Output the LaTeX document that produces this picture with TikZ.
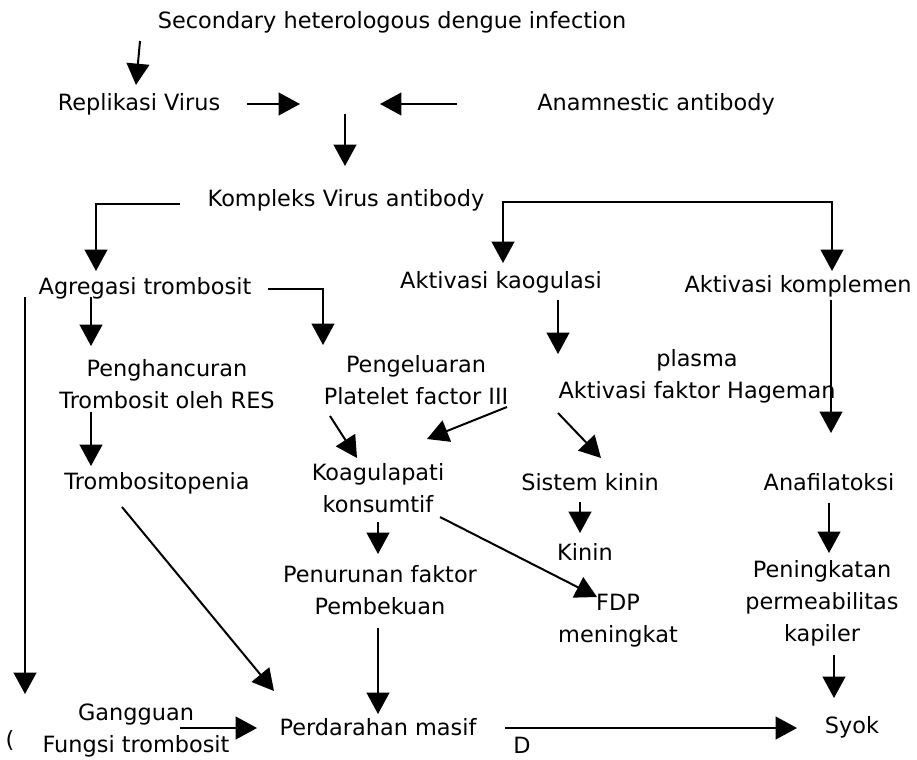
\documentclass[tikz,border=0pt]{standalone}
\usepackage{fontspec}
\setmainfont{DejaVu Sans}
\usetikzlibrary{arrows.meta}
\begin{document}
\begin{tikzpicture}[x=0.75pt,y=-0.75pt,
  lbl/.style={inner sep=0pt, align=center, font=\fontsize{16.8pt}{24pt}\selectfont},
  ln/.style={line width=1.5pt},
  arr/.style={line width=1.5pt, -{Triangle[length=16pt,width=17pt]}},
  darr/.style={line width=1.5pt, {Triangle[length=16pt,width=17pt]}-{Triangle[length=16pt,width=17pt]}}]
\useasboundingbox (0,0) rectangle (917,760);
% text nodes
\node[lbl] (sec) at (392,22) {Secondary heterologous dengue infection};
\node[lbl] (rep) at (139,104) {Replikasi Virus};
\node[lbl] (ana) at (656,104) {Anamnestic antibody};
\node[lbl] (kom) at (346,200) {Kompleks Virus antibody};
\node[lbl] (agr) at (145,288) {Agregasi trombosit};
\node[lbl] (kao) at (501,282) {Aktivasi kaogulasi};
\node[lbl] (kpl) at (798,286) {Aktivasi komplemen};
\node[lbl] (pen) at (167,384) {Penghancuran\\Trombosit oleh RES};
\node[lbl] (pgl) at (416,380) {Pengeluaran\\Platelet factor III};
\node[lbl] (hag) at (697,376) {plasma\\Aktivasi faktor Hageman};
\node[lbl] (trp) at (157,483) {Trombositopenia};
\node[lbl] (koa) at (378,488) {Koagulapati\\konsumtif};
\node[lbl] (sis) at (590,482) {Sistem kinin};
\node[lbl] (anf) at (829,482) {Anafilatoksi};
\node[lbl] (kin) at (585,552) {Kinin};
\node[lbl] (pnr) at (380,590) {Penurunan faktor\\Pembekuan};
\node[lbl] (fdp) at (618,621) {FDP\\meningkat};
\node[lbl] (pkt) at (822,603) {Peningkatan\\permeabilitas\\kapiler};
\node[lbl] (gan) at (136,731) {Gangguan\\Fungsi trombosit};
\node[lbl] (per) at (378,727) {Perdarahan masif};
\node[lbl] (syk) at (852,727) {Syok};
\node[lbl] (par) at (10,740) {(};
\node[lbl] (dd) at (522,745) {D};
% coordinates
\coordinate (a1s) at (140,41);  \coordinate (a1e) at (136,85);
\coordinate (a2s) at (247,104); \coordinate (a2e) at (300,104);
\coordinate (a3s) at (457,104); \coordinate (a3e) at (380,104);
\coordinate (a4s) at (345,114); \coordinate (a4e) at (345,166);
\coordinate (k1) at (180,204); \coordinate (k2) at (96,204); \coordinate (k3) at (96,271);
\coordinate (r1) at (503,263); \coordinate (r2) at (503,202); \coordinate (r3) at (832,202); \coordinate (r4) at (832,271);
\coordinate (g1) at (268,289); \coordinate (g2) at (323,289); \coordinate (g3) at (323,345);
\coordinate (l1) at (25,297); \coordinate (l2) at (25,694);
\coordinate (m1) at (91,297); \coordinate (m2) at (91,346);
\coordinate (m3) at (91,412); \coordinate (m4) at (91,466);
\coordinate (q1) at (558,300); \coordinate (q2) at (558,354);
\coordinate (s1) at (831,300); \coordinate (s2) at (831,433);
\coordinate (p1) at (330,416); \coordinate (p2) at (357,458);
\coordinate (p3) at (507,407); \coordinate (p4) at (427,439);
\coordinate (h1) at (558,413); \coordinate (h2) at (601,458);
\coordinate (t1) at (122,507); \coordinate (t2) at (274,691);
\coordinate (u1) at (378,522); \coordinate (u2) at (378,554);
\coordinate (v1) at (580,502); \coordinate (v2) at (580,533);
\coordinate (w1) at (440,517); \coordinate (w2) at (597,597);
\coordinate (x1) at (378,628); \coordinate (x2) at (378,714);
\coordinate (y1) at (180,728); \coordinate (y2) at (257,728);
\coordinate (z1) at (505,728); \coordinate (z2) at (797,728);
\coordinate (n1) at (834,655); \coordinate (n2) at (834,698);
\coordinate (o1) at (829,503); \coordinate (o2) at (829,553);
% connectors
\draw[arr] (a1s) -- (a1e);
\draw[arr] (a2s) -- (a2e);
\draw[arr] (a3s) -- (a3e);
\draw[arr] (a4s) -- (a4e);
\draw[arr] (k1) -- (k2) -- (k3);
\draw[darr] (r1) -- (r2) -- (r3) -- (r4);
\draw[arr] (g1) -- (g2) -- (g3);
\draw[arr] (l1) -- (l2);
\draw[arr] (m1) -- (m2);
\draw[arr] (m3) -- (m4);
\draw[arr] (q1) -- (q2);
\draw[arr] (s1) -- (s2);
\draw[arr] (p1) -- (p2);
\draw[arr] (p3) -- (p4);
\draw[arr] (h1) -- (h2);
\draw[arr] (t1) -- (t2);
\draw[arr] (u1) -- (u2);
\draw[arr] (v1) -- (v2);
\draw[arr] (w1) -- (w2);
\draw[arr] (x1) -- (x2);
\draw[arr] (y1) -- (y2);
\draw[arr] (z1) -- (z2);
\draw[arr] (n1) -- (n2);
\draw[arr] (o1) -- (o2);
\end{tikzpicture}
\end{document}
